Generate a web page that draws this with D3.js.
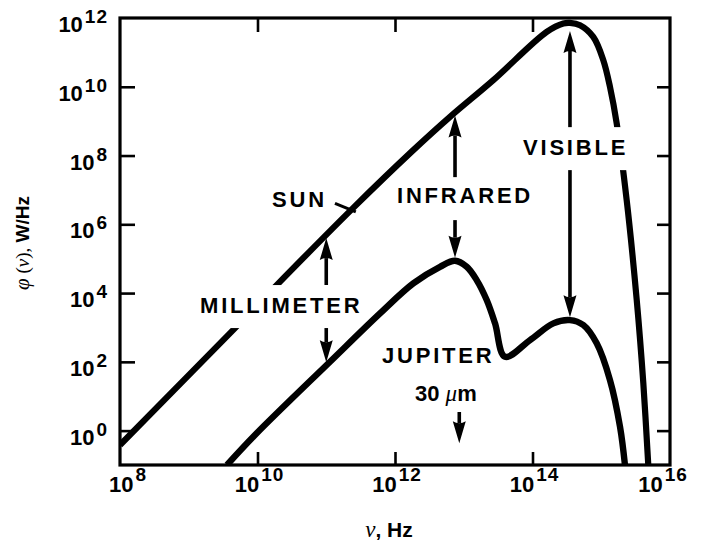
<!DOCTYPE html>
<html><head><meta charset="utf-8">
<script src="https://cdn.jsdelivr.net/npm/d3@7"></script>
<style>body{margin:0;background:#fff}svg{display:block}</style>
</head><body>
<svg id="c" width="701" height="553"></svg>
<script>
// ---- data (log10 values) ----
const xTickExps = [8, 10, 12, 14, 16];
const yTickExps = [0, 2, 4, 6, 8, 10, 12];

const sunLogNu  = [8.0, 9.644, 10.279, 11.389, 12.266, 12.8, 13.43, 14.207, 14.448, 14.545, 14.691, 14.884, 15.03, 15.127, 15.225, 15.37, 15.516, 15.612, 15.684];
const sunLogPhi = [-0.419, 2.924, 4.233, 6.471, 8.157, 9.125, 10.192, 11.596, 11.84, 11.857, 11.791, 11.451, 10.773, 9.997, 8.933, 6.703, 3.797, 1.375, -1.0];

const jupLogNu  = [9.556, 9.988, 11.055, 11.782, 12.266, 12.655, 12.873, 13.043, 13.188, 13.334, 13.455, 13.6, 13.964, 14.303, 14.545, 14.739, 14.934, 15.127, 15.273, 15.345];
const jupLogPhi = [-1.0, -0.078, 2.003, 3.41, 4.282, 4.765, 4.939, 4.765, 4.378, 3.797, 3.119, 2.148, 2.634, 3.119, 3.215, 3.07, 2.538, 1.471, 0.113, -1.0];

const labelTexts  = ["SUN", "MILLIMETER", "INFRARED", "VISIBLE", "JUPITER"];
const labelLogNu  = [10.211, 9.164, 12.029, 13.862, 11.811];
const labelLogPhi = [6.5, 3.419, 6.616, 8.012, 1.965];

// arrows: tail -> tip
const arrowLogNu      = [11.0, 11.0, 12.873, 12.873, 14.545, 14.545, 12.935];
const arrowTailLogPhi = [4.235, 2.983, 7.372, 6.122, 8.826, 7.576, 0.541];
const arrowTipLogPhi  = [5.599, 1.99, 9.164, 5.03, 11.622, 3.30, -0.369];

const wavelengthLabelLogNu = 12.291, wavelengthLabelLogPhi = 0.86;
const sunLeaderLogNu = [11.127, 11.43], sunLeaderLogPhi = [6.608, 6.36];

// ---- drawing ----
const P = e => Math.pow(10, e);
const svg = d3.select("#c");
const x = d3.scaleLog().domain([1e8, 1e16]).range([120, 670]);
const y = d3.scaleLog().domain([1e-1, 1e12]).range([465, 18]);
const SANS = "'Liberation Sans', Arial, Helvetica, sans-serif";
const SERIF = "'Liberation Serif', 'DejaVu Serif', serif";

function tickAxis(axis, tr) {
  const g = svg.append("g").attr("transform", tr).call(axis);
  g.select(".domain").remove();
  g.selectAll(".tick line").attr("stroke", "#000").attr("stroke-width", 2.6);
  g.selectAll(".tick text").remove();
  return g;
}
const innerX = xTickExps.slice(1, -1).map(P);
const innerY = yTickExps.slice(0, -1).map(P);
tickAxis(d3.axisBottom(x).tickValues(innerX).tickSize(-13), `translate(0,${y(1e-1)})`);
tickAxis(d3.axisTop(x).tickValues(innerX).tickSize(-14), `translate(0,${y(1e12)})`);
tickAxis(d3.axisLeft(y).tickValues(innerY).tickSize(-15), `translate(${x(1e8)},0)`);
tickAxis(d3.axisRight(y).tickValues(innerY).tickSize(-13), `translate(${x(1e16)},0)`);

svg.append("rect").attr("x", x(1e8)).attr("y", y(1e12))
  .attr("width", x(1e16) - x(1e8)).attr("height", y(1e-1) - y(1e12))
  .attr("fill", "none").attr("stroke", "#000").attr("stroke-width", 3.2);

xTickExps.forEach(e => {
  const cx = Math.max(128, Math.min(663, x(P(e)) + 2));
  const t = svg.append("text").attr("x", cx).attr("y", y(1e-1) + 27)
    .attr("text-anchor", "middle").attr("font-family", SANS).attr("font-weight", "bold")
    .attr("font-size", 22).attr("fill", "#000");
  t.append("tspan").text("10");
  t.append("tspan").attr("dx", 2).attr("dy", -11).attr("font-size", 19).attr("letter-spacing", 1).text(e);
});
yTickExps.forEach(e => {
  const t = svg.append("text").attr("x", 108).attr("y", y(P(e)) + 14)
    .attr("text-anchor", "end").attr("font-family", SANS).attr("font-weight", "bold")
    .attr("font-size", 22).attr("fill", "#000");
  t.append("tspan").text("10");
  t.append("tspan").attr("dx", 2).attr("dy", -9).attr("font-size", 19).attr("letter-spacing", 1).text(e);
});

const xt = svg.append("text").attr("x", 389).attr("y", 537).attr("text-anchor", "middle")
  .attr("font-size", 21).attr("fill", "#000");
xt.append("tspan").attr("font-family", SERIF).attr("font-style", "italic").attr("font-size", 23).text("ν");
xt.append("tspan").attr("font-family", SANS).attr("font-weight", "bold").text(", Hz");

const yt = svg.append("text").attr("transform", "translate(29,243) rotate(-90)")
  .attr("text-anchor", "middle").attr("font-size", 19).attr("fill", "#000");
yt.append("tspan").attr("font-family", SERIF).attr("font-style", "italic").attr("font-size", 21).text("φ");
yt.append("tspan").attr("font-family", SERIF).text(" (");
yt.append("tspan").attr("font-family", SERIF).attr("font-style", "italic").text("ν");
yt.append("tspan").attr("font-family", SERIF).text("),");
yt.append("tspan").attr("font-family", SANS).attr("font-weight", "bold").text(" W/Hz");

const gSun = svg.append("g");
const gMask = svg.append("g");
const gJup = svg.append("g");
const gArrow = svg.append("g");
const gText = svg.append("g");

const line = d3.line().x(d => x(P(d[0]))).y(d => y(P(d[1]))).curve(d3.curveCatmullRom.alpha(0.5));
const clipId = "plotclip";
svg.append("clipPath").attr("id", clipId).append("rect")
  .attr("x", x(1e8)).attr("y", y(1e12)).attr("width", x(1e16) - x(1e8)).attr("height", y(1e-1) - y(1e12));

gSun.append("path").attr("d", line(d3.zip(sunLogNu, sunLogPhi)))
  .attr("fill", "none").attr("stroke", "#000").attr("stroke-width", 6.2)
  .attr("stroke-linejoin", "round").attr("clip-path", `url(#${clipId})`);
gJup.append("path").attr("d", line(d3.zip(jupLogNu, jupLogPhi)))
  .attr("fill", "none").attr("stroke", "#000").attr("stroke-width", 6.4)
  .attr("stroke-linejoin", "round").attr("clip-path", `url(#${clipId})`);

gArrow.append("line")
  .attr("x1", x(P(sunLeaderLogNu[0]))).attr("y1", y(P(sunLeaderLogPhi[0])))
  .attr("x2", x(P(sunLeaderLogNu[1]))).attr("y2", y(P(sunLeaderLogPhi[1])))
  .attr("stroke", "#000").attr("stroke-width", 3);

arrowLogNu.forEach((ln, i) => {
  const ax = x(P(ln)), y0 = y(P(arrowTailLogPhi[i])), y1 = y(P(arrowTipLogPhi[i]));
  const dir = y1 < y0 ? -1 : 1;
  const L = 22, W = 6.5;
  const base = y1 - dir * L;
  gArrow.append("line").attr("x1", ax).attr("x2", ax).attr("y1", y0).attr("y2", base + dir * 2)
    .attr("stroke", "#000").attr("stroke-width", 3.6);
  gArrow.append("path")
    .attr("d", `M${ax},${y1} L${ax - W},${base} Q${ax},${base + dir * 4} ${ax + W},${base} Z`)
    .attr("fill", "#000");
});

labelTexts.forEach((s, i) => {
  const lx = x(P(labelLogNu[i])), ly = y(P(labelLogPhi[i]));
  const t = gText.append("text").attr("x", lx).attr("y", ly)
    .attr("font-family", SANS).attr("font-weight", "bold").attr("font-size", 22)
    .attr("letter-spacing", 2.8).attr("fill", "#000").text(s);
  const bb = t.node().getBBox();
  gMask.append("rect").attr("x", bb.x - 4).attr("y", ly - 28)
    .attr("width", bb.width + 4).attr("height", 43).attr("fill", "#fff");
});

const wl = gText.append("text").attr("x", x(P(wavelengthLabelLogNu))).attr("y", y(P(wavelengthLabelLogPhi)))
  .attr("font-size", 22).attr("fill", "#000");
wl.append("tspan").attr("font-family", SANS).attr("font-weight", "bold").text("30 ");
wl.append("tspan").attr("font-family", SERIF).attr("font-style", "italic").attr("font-size", 23).text("μ");
wl.append("tspan").attr("font-family", SANS).attr("font-weight", "bold").text("m");
</script>
</body></html>
